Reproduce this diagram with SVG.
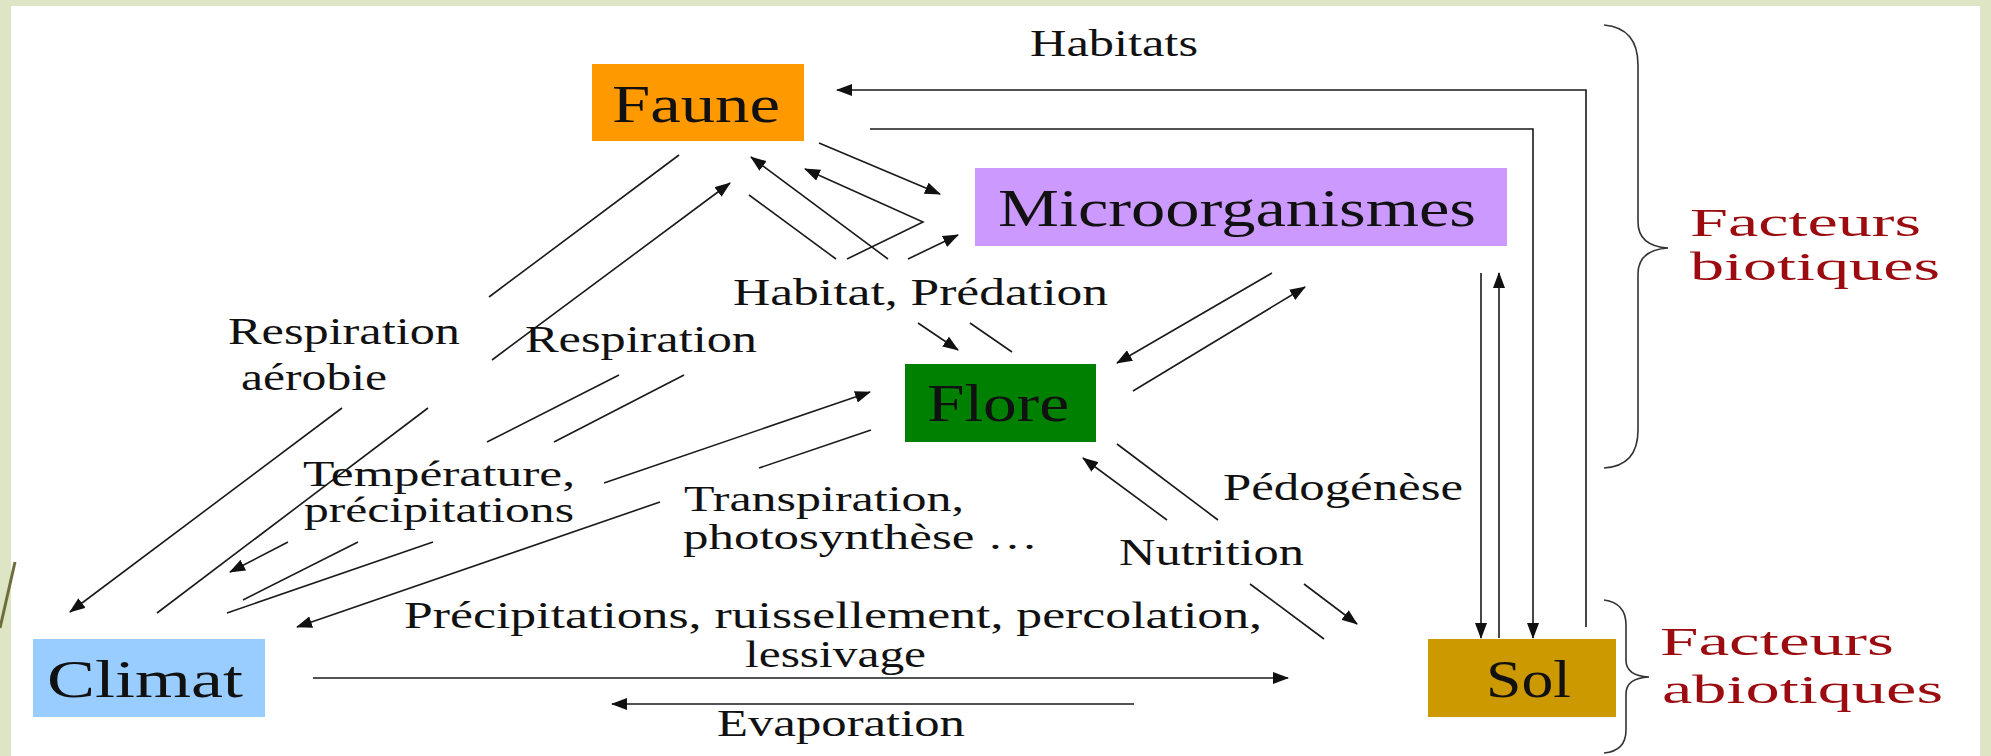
<svg xmlns="http://www.w3.org/2000/svg" width="1991" height="756" viewBox="0 0 1991 756">
<style>
.ln{fill:none;stroke:#1a1a1a;stroke-width:1.6}
.lbl{font-family:"Liberation Serif","Times New Roman",serif;font-size:38px;fill:#111}
.tight{font-size:35px}
.nt{font-family:"Liberation Serif","Times New Roman",serif;font-size:53px;fill:#111}
.fac{font-family:"Liberation Serif","Times New Roman",serif;font-size:39px;fill:#9b0b0f}
.brace{fill:none;stroke:#333;stroke-width:1.6}
</style>
<defs>
<marker id="ah" markerUnits="userSpaceOnUse" markerWidth="16" markerHeight="12" refX="15" refY="6" orient="auto">
<path d="M0,0 L16,6 L0,12 z" fill="#111"/>
</marker>
</defs>
<rect x="0" y="0" width="1991" height="756" fill="#dde5c5"/>
<rect x="11" y="6" width="1969" height="750" fill="#ffffff"/>
<line x1="0" y1="628" x2="15" y2="562" stroke="#6f6d3c" stroke-width="3"/>

<g id="connectors">
<polyline class="ln" points="1586,627 1586,90 837,90" marker-end="url(#ah)"/>
<polyline class="ln" points="870,129 1533,129 1533,638" marker-end="url(#ah)"/>
<line class="ln" x1="1481" y1="273" x2="1481" y2="638" marker-end="url(#ah)"/>
<line class="ln" x1="1499" y1="638" x2="1499" y2="273" marker-end="url(#ah)"/>
<line class="ln" x1="819" y1="143" x2="940" y2="194" marker-end="url(#ah)"/>
<polyline class="ln" points="847,259 923,222 805,169" marker-end="url(#ah)"/>
<line class="ln" x1="888" y1="259" x2="751" y2="157" marker-end="url(#ah)"/>
<line class="ln" x1="836" y1="259" x2="749" y2="195"/>
<line class="ln" x1="908" y1="259" x2="958" y2="235" marker-end="url(#ah)"/>
<line class="ln" x1="918" y1="323" x2="958" y2="350" marker-end="url(#ah)"/>
<line class="ln" x1="970" y1="323" x2="1012" y2="352"/>
<line class="ln" x1="679" y1="155" x2="489" y2="297"/>
<line class="ln" x1="342" y1="408" x2="70" y2="612" marker-end="url(#ah)"/>
<line class="ln" x1="157" y1="613" x2="428" y2="408"/>
<line class="ln" x1="492" y1="360" x2="730" y2="183" marker-end="url(#ah)"/>
<line class="ln" x1="619" y1="375" x2="487" y2="442"/>
<line class="ln" x1="288" y1="542" x2="230" y2="572" marker-end="url(#ah)"/>
<line class="ln" x1="684" y1="375" x2="554" y2="442"/>
<line class="ln" x1="358" y1="542" x2="243" y2="600"/>
<line class="ln" x1="227" y1="613" x2="433" y2="542"/>
<line class="ln" x1="604" y1="483" x2="870" y2="392" marker-end="url(#ah)"/>
<line class="ln" x1="871" y1="430" x2="759" y2="468"/>
<line class="ln" x1="660" y1="502" x2="297" y2="627" marker-end="url(#ah)"/>
<line class="ln" x1="1272" y1="273" x2="1117" y2="363" marker-end="url(#ah)"/>
<line class="ln" x1="1133" y1="391" x2="1305" y2="287" marker-end="url(#ah)"/>
<line class="ln" x1="1167" y1="520" x2="1083" y2="458" marker-end="url(#ah)"/>
<line class="ln" x1="1117" y1="444" x2="1218" y2="520"/>
<line class="ln" x1="1304" y1="584" x2="1357" y2="624" marker-end="url(#ah)"/>
<line class="ln" x1="1250" y1="584" x2="1324" y2="639"/>
<line class="ln" x1="313" y1="678" x2="1288" y2="678" marker-end="url(#ah)"/>
<line class="ln" x1="1134" y1="704" x2="612" y2="704" marker-end="url(#ah)"/>
</g>

<g id="labels">
<text class="lbl" x="1030" y="56" textLength="168" lengthAdjust="spacingAndGlyphs">Habitats</text>
<text class="lbl" x="733" y="305" textLength="375" lengthAdjust="spacingAndGlyphs">Habitat, Prédation</text>
<text class="lbl" x="228" y="344" textLength="232" lengthAdjust="spacingAndGlyphs">Respiration</text>
<text class="lbl" x="241" y="390" textLength="146" lengthAdjust="spacingAndGlyphs">aérobie</text>
<text class="lbl" x="525" y="352" textLength="232" lengthAdjust="spacingAndGlyphs">Respiration</text>
<text class="lbl tight" x="303" y="486" textLength="272" lengthAdjust="spacingAndGlyphs">Température,</text>
<text class="lbl tight" x="304" y="522" textLength="270" lengthAdjust="spacingAndGlyphs">précipitations</text>
<text class="lbl tight" x="684" y="511" textLength="280" lengthAdjust="spacingAndGlyphs">Transpiration,</text>
<text class="lbl tight" x="683" y="549" textLength="355" lengthAdjust="spacingAndGlyphs">photosynthèse …</text>
<text class="lbl" x="1223" y="500" textLength="240" lengthAdjust="spacingAndGlyphs">Pédogénèse</text>
<text class="lbl" x="1119" y="565" textLength="185" lengthAdjust="spacingAndGlyphs">Nutrition</text>
<text class="lbl" x="404" y="628" textLength="858" lengthAdjust="spacingAndGlyphs">Précipitations, ruissellement, percolation,</text>
<text class="lbl" x="745" y="667" textLength="181" lengthAdjust="spacingAndGlyphs">lessivage</text>
<text class="lbl" x="717" y="736" textLength="248" lengthAdjust="spacingAndGlyphs">Evaporation</text>
</g>

<g id="brace-biotiques">
<path class="brace" d="M1604,25 Q1638,28 1638,65 L1638,222 Q1638,246 1668,248 Q1638,250 1638,274 L1638,430 Q1638,466 1604,468"/>
<text class="fac" x="1690" y="236" textLength="231" lengthAdjust="spacingAndGlyphs">Facteurs</text>
<text class="fac" x="1690" y="280" textLength="250" lengthAdjust="spacingAndGlyphs">biotiques</text>
</g>
<g id="brace-abiotiques">
<path class="brace" d="M1604,600 Q1626,603 1626,625 L1626,660 Q1626,676 1649,677 Q1626,678 1626,694 L1626,730 Q1626,751 1604,753"/>
<text class="fac" x="1660" y="655" textLength="234" lengthAdjust="spacingAndGlyphs">Facteurs</text>
<text class="fac" x="1662" y="703" textLength="281" lengthAdjust="spacingAndGlyphs">abiotiques</text>
</g>

<g id="faune">
<rect x="592" y="64" width="212" height="77" fill="#ff9900"/>
<text class="nt" x="612" y="122" textLength="168" lengthAdjust="spacingAndGlyphs">Faune</text>
</g>
<g id="microorganismes">
<rect x="975" y="168" width="532" height="78" fill="#cc99ff"/>
<text class="nt" x="998" y="226" textLength="478" lengthAdjust="spacingAndGlyphs">Microorganismes</text>
</g>
<g id="flore">
<rect x="905" y="364" width="191" height="78" fill="#008000"/>
<text class="nt" x="927" y="421" textLength="142" lengthAdjust="spacingAndGlyphs">Flore</text>
</g>
<g id="climat">
<rect x="33" y="639" width="232" height="78" fill="#99ccff"/>
<text class="nt" x="47" y="697" textLength="196" lengthAdjust="spacingAndGlyphs">Climat</text>
</g>
<g id="sol">
<rect x="1428" y="639" width="188" height="78" fill="#cc9900"/>
<text class="nt" x="1486" y="697" textLength="85" lengthAdjust="spacingAndGlyphs">Sol</text>
</g>
</svg>
